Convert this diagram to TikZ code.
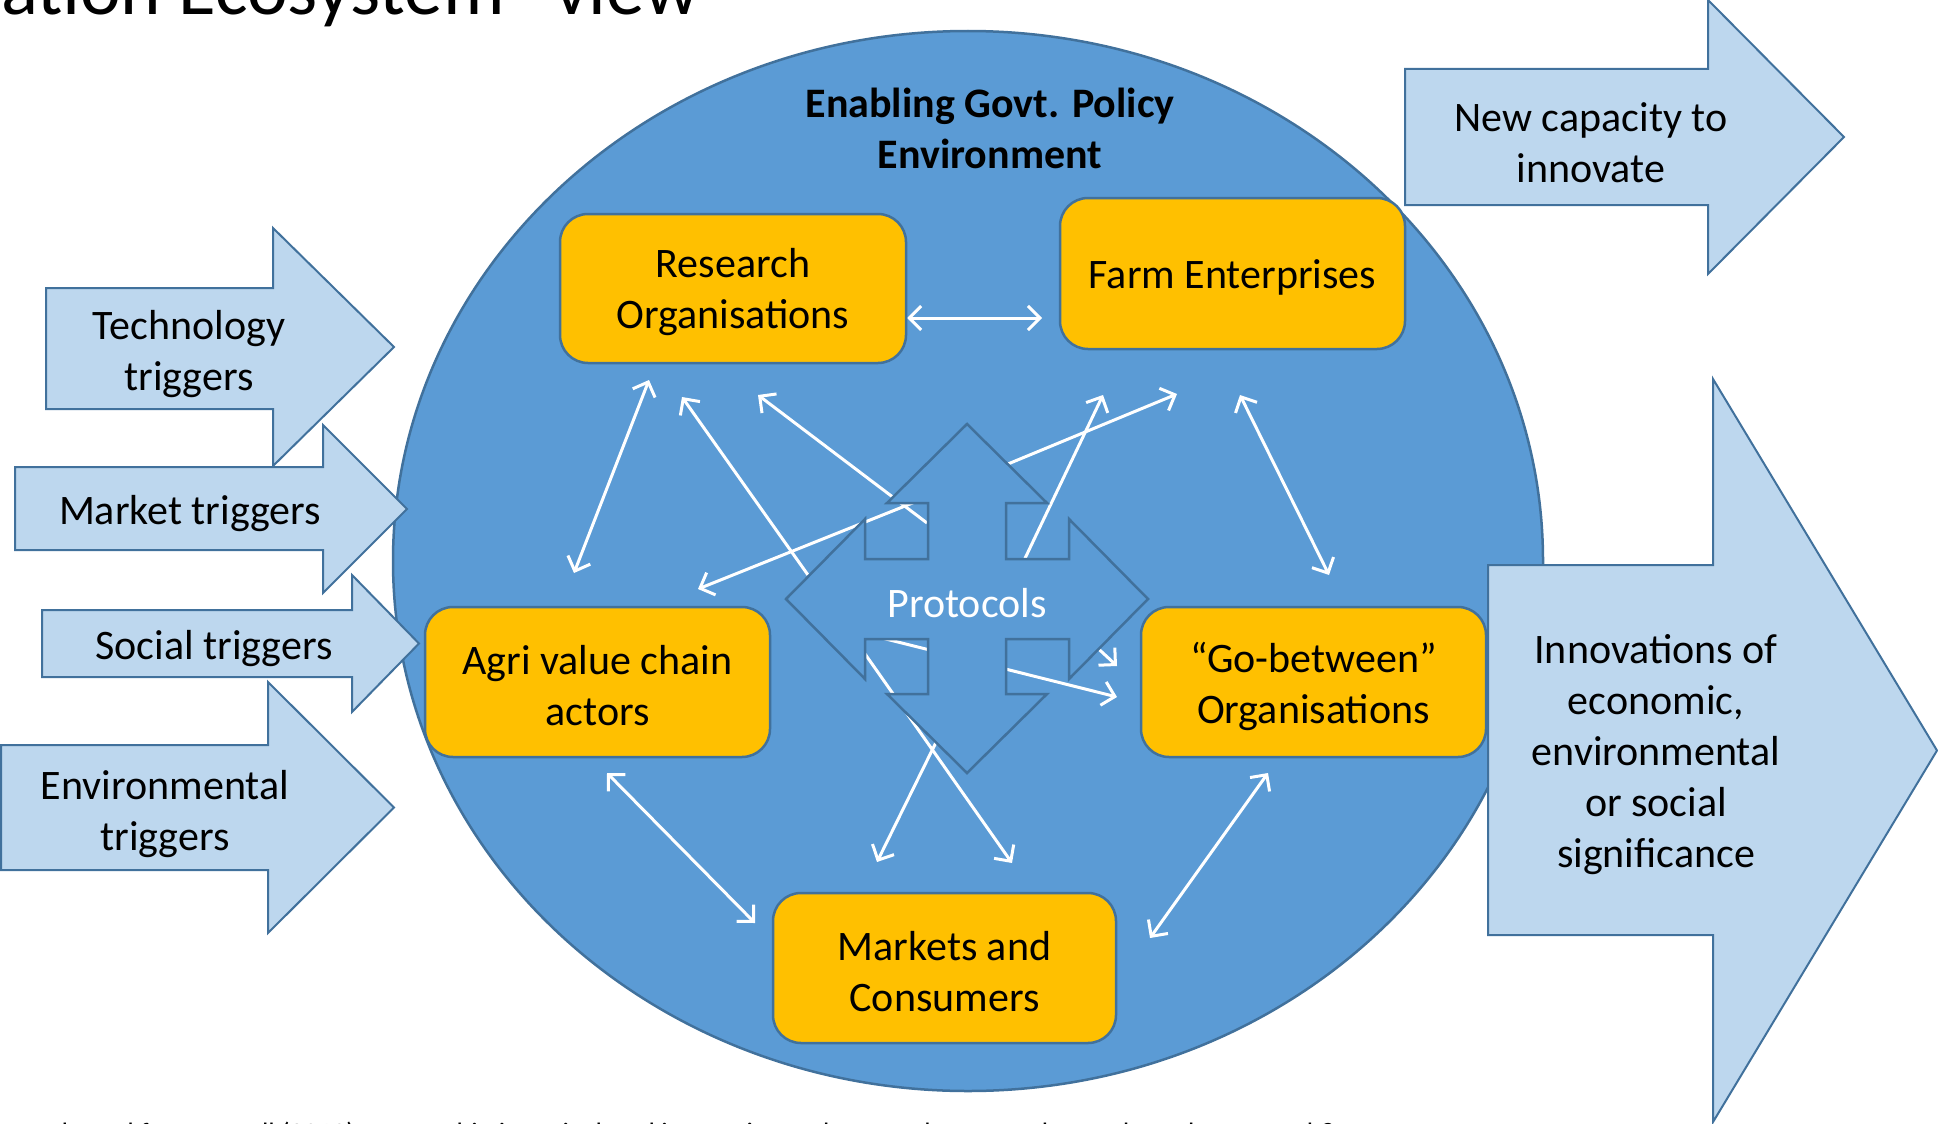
\documentclass[tikz,border=0pt]{standalone}
\usepackage{fontspec}
\setmainfont{Carlito}
\usetikzlibrary{arrows.meta}

\definecolor{ringblue}{HTML}{5B9BD5}
\definecolor{edgeblue}{HTML}{41719C}
\definecolor{paleblue}{HTML}{BDD7EE}
\definecolor{gold}{HTML}{FFC000}

% block arrow: #1 left x, #2 body top, #3 body bottom, #4 head base x,
% #5 head top, #6 head bottom, #7 tip x
\newcommand{\blockarrow}[7]{%
  \path[trigger] (#1,#2) -- (#4,#2) -- (#4,#5) -- (#7,{(#5+#6)/2})
    -- (#4,#6) -- (#4,#3) -- (#1,#3) -- cycle;}

\begin{document}
\begin{tikzpicture}[x=1pt,y=-1pt,
  txt/.style={font=\fontsize{42}{51}\selectfont, align=center, text=black,
    yshift=-4pt},
  actor/.style={draw=edgeblue, line width=2.5pt, fill=gold,
    rectangle, rounded corners=28pt, minimum width=345pt,
    minimum height=150pt, inner sep=0pt},
  trigger/.style={draw=edgeblue, line width=2pt, fill=paleblue, line join=miter},
  link/.style={draw=white, line width=3pt,
    >={Straight Barb[length=12pt,width=24pt]}},
]
\useasboundingbox (0,0) rectangle (1938,1124);

% heading and source line, both partly outside the page
\node[anchor=base east, inner sep=0pt, font=\fontsize{77}{90}\selectfont] (title)
  at (700,15) {Innovation Ecosystem” view};
\node[anchor=base west, inner sep=0pt, font=\fontsize{28}{34}\selectfont] (source)
  at (37,1142)
  {Adapted from A. Hall (2010) Partnership in agricultural innovation: Who puts them together and are they enough?};

% policy environment
\path[fill=ringblue, draw=edgeblue, line width=2.5pt]
  (968,561) ellipse [x radius=575pt, y radius=530pt];
\node[txt, font=\bfseries\fontsize{42}{51}\selectfont] (policy) at (990,124)
  {Enabling Govt. Policy\\Environment};

% end points of the links
\coordinate (a1) at (907,318);  \coordinate (b1) at (1042,318);
\coordinate (a2) at (649,380);  \coordinate (b2) at (574,573);
\coordinate (a3) at (808,575);  \coordinate (b3) at (682,397);
\coordinate (a4) at (927,523);  \coordinate (b4) at (758,395);
\coordinate (a5) at (930,496);  \coordinate (b5) at (698,589);
\coordinate (a6) at (991,471);  \coordinate (b6) at (1177,394);
\coordinate (a7) at (1018,573); \coordinate (b7) at (1103,395);
\coordinate (a8) at (1240,395); \coordinate (b8) at (1329,575);
\coordinate (a9) at (607,773);  \coordinate (b9) at (755,923);
\coordinate (a10) at (1268,773); \coordinate (b10) at (1150,938);
\coordinate (a11) at (948,718); \coordinate (b11) at (877,862);
\coordinate (a12) at (851,634); \coordinate (b12) at (1012,863);
\coordinate (a13) at (1076,628); \coordinate (b13) at (1117,666);
\coordinate (a14) at (850,630); \coordinate (b14) at (1117,697);

\draw[link,<->] (a1) -- (b1);
\draw[link,<->] (a2) -- (b2);
\draw[link,->] (a3) -- (b3);
\draw[link,->] (a4) -- (b4);
\draw[link,->] (a5) -- (b5);
\draw[link,->] (a6) -- (b6);
\draw[link,->] (a7) -- (b7);
\draw[link,<->] (a8) -- (b8);
\draw[link,<->] (a9) -- (b9);
\draw[link,<->] (a10) -- (b10);
\draw[link,->] (a11) -- (b11);
\draw[link,->] (a12) -- (b12);
\draw[link,->] (a13) -- (b13);
\draw[link,->] (a14) -- (b14);

% four-way protocols arrow
\path[fill=ringblue, draw=edgeblue, line width=2.5pt, line join=miter]
  (967,424) -- (1047,503) -- (1006,503) -- (1006,559) -- (1069,559)
  -- (1069,519) -- (1148,599) -- (1069,679) -- (1069,639) -- (1006,639)
  -- (1006,694) -- (1047,694) -- (967,773) -- (887,694) -- (928,694)
  -- (928,639) -- (865,639) -- (865,679) -- (786,599) -- (865,519)
  -- (865,559) -- (928,559) -- (928,503) -- (887,503) -- cycle;
\node[txt, text=white] (protocols) at (967,599) {Protocols};

% actors: box, then its label
\node[actor, minimum width=346pt, minimum height=149pt] (research) at (733,288.5) {};
\node[txt] (research-t) at (research) {Research\\Organisations};
\node[actor, minimum height=151pt] (farm) at (1232.5,273.5) {};
\node[txt] (farm-t) at (farm) {Farm Enterprises};
\node[actor] (agri) at (597.5,682) {};
\node[txt] (agri-t) at (agri) {Agri value chain\\actors};
\node[actor] (gobetween) at (1313.5,682) {};
\node[txt] (gobetween-t) at (gobetween) {“Go-between”\\Organisations};
\node[actor, minimum width=343pt] (markets) at (944.5,968) {};
\node[txt] (markets-t) at (markets) {Markets and\\Consumers};

% incoming triggers
\blockarrow{46}{288}{409}{273}{228}{466}{394}
\node[txt] (tech) at (189,350) {Technology\\triggers};
\blockarrow{15}{467}{550}{323}{425}{593}{407}
\node[txt] (market) at (190,510) {Market triggers};
\blockarrow{42}{610}{677}{352}{575}{712}{419}
\node[txt] (social) at (214,645) {Social triggers};
\blockarrow{1}{745}{870}{268}{682}{933}{394}
\node[txt] (environ) at (165,810) {Environmental\\triggers};

% outcomes
\blockarrow{1405}{69}{205}{1708}{0}{274}{1844}
\node[txt] (capacity) at (1591,139) {New capacity to\\innovate};
\blockarrow{1488}{565}{935}{1713}{379}{1122}{1937}
\node[txt] (innov) at (1656,751)
  {Innovations of\\economic,\\environmental\\or social\\significance};
\end{tikzpicture}
\end{document}
